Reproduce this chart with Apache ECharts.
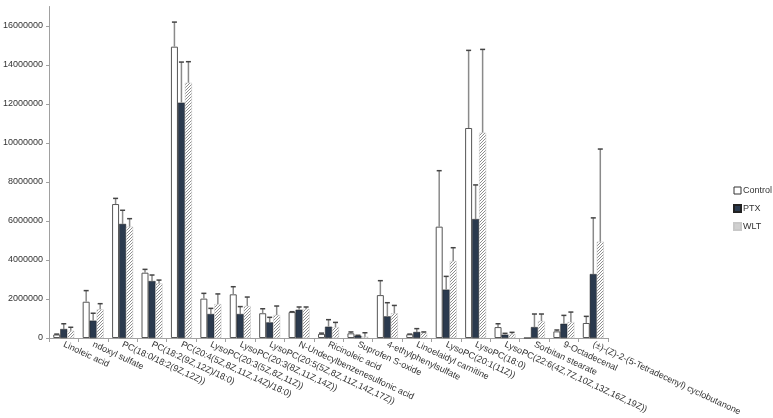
<!DOCTYPE html>
<html>
<head>
<meta charset="utf-8">
<script src="https://cdn.jsdelivr.net/npm/echarts@6/dist/echarts.min.js"></script>
<style>
  html, body { margin: 0; padding: 0; background: #fff; }
  #chart { width: 773px; height: 418px; }
</style>
</head>
<body>
<div id="chart"></div>
<script>
const categories = [
  'Linoleic acid', 'ndoxyl sulfate', 'PC(18:0/18:2(9Z,12Z))', 'PC(18:2(9Z,12Z)/18:0)',
  'PC(20:4(5Z,8Z,11Z,14Z)/18:0)', 'LysoPC(20:3(5Z,8Z,11Z))', 'LysoPC(20:3(8Z,11Z,14Z))',
  'LysoPC(20:5(5Z,8Z,11Z,14Z,17Z))', 'N-Undecylbenzenesulfonic acid', 'Ricinoleic acid',
  'Suprofen S-oxide', '4-ethylphenylsulfate', 'Linoelaidyl carnitine', 'LysoPC(20:1(11Z))',
  'LysoPC(18:0)', 'LysoPC(22:6(4Z,7Z,10Z,13Z,16Z,19Z))', 'Sorbitan stearate', '9-Octadecenal',
  '(±)-(Z)-2-(5-Tetradecenyl) cyclobutanone'
]
const seriesNames = ['Control', 'PTX', 'WLT']

const controlMean = [180000, 1860000, 6870000, 3350000, 14940000, 2020000, 2240000, 1270000, 1330000, 210000, 240000, 2200000, 190000, 5710000, 10770000, 560000, 0, 340000, 770000]
const controlErr = [20000, 570000, 290000, 170000, 1260000, 270000, 390000, 230000, 20000, 40000, 70000, 740000, 10000, 2870000, 3980000, 170000, 0, 70000, 340000]
const ptxMean = [460000, 890000, 5850000, 2920000, 12070000, 1230000, 1230000, 800000, 1450000, 580000, 120000, 1110000, 310000, 2480000, 6100000, 170000, 560000, 730000, 3280000]
const ptxErr = [270000, 380000, 700000, 310000, 2080000, 290000, 380000, 260000, 140000, 360000, 20000, 700000, 170000, 680000, 1750000, 70000, 670000, 430000, 2880000]
const wltMean = [370000, 1470000, 5710000, 2800000, 13090000, 1740000, 1640000, 1180000, 1490000, 560000, 70000, 1270000, 270000, 3950000, 10530000, 200000, 870000, 820000, 4940000]
const wltErr = [180000, 290000, 410000, 170000, 1080000, 520000, 460000, 460000, 100000, 240000, 200000, 400000, 40000, 680000, 4270000, 90000, 360000, 510000, 4750000]

const yTicks = [0, 2000000, 4000000, 6000000, 8000000, 10000000, 12000000, 14000000, 16000000]

// diagonal hatch for the WLT bars
function hatch() {
  const c = document.createElement('canvas')
  c.width = 3; c.height = 3
  const g = c.getContext('2d')
  g.fillStyle = '#fff'
  g.fillRect(0, 0, 3, 3)
  g.strokeStyle = '#8f8f8f'
  g.lineWidth = 1
  g.beginPath()
  g.moveTo(0, 3); g.lineTo(3, 0)
  g.moveTo(-1, 1); g.lineTo(1, -1)
  g.moveTo(2, 4); g.lineTo(4, 2)
  g.stroke()
  return c
}

const barW = 7
function errSeries(means, errs, offset) {
  return {
    type: 'custom',
    z: 3,
    silent: true,
    data: means.map((m, i) => [i, m, errs[i]]),
    renderItem: (params, api) => {
      const e = api.value(2)
      if (!e) return null
      const p0 = api.coord([api.value(0), api.value(1)])
      const p1 = api.coord([api.value(0), api.value(1) + e])
      const x = p0[0] + offset
      return {
        type: 'group',
        children: [
          { type: 'line', shape: { x1: x, y1: p0[1], x2: x, y2: p1[1] }, style: { stroke: '#8a8a8a', lineWidth: 1.5 } },
          { type: 'line', shape: { x1: x - 2.5, y1: p1[1], x2: x + 2.5, y2: p1[1] }, style: { stroke: '#444', lineWidth: 1.5 } }
        ]
      }
    }
  }
}

const chart = echarts.init(document.getElementById('chart'))
chart.setOption({
  animation: false,
  backgroundColor: '#fff',
  textStyle: { fontFamily: 'Liberation Sans' },
  grid: { left: 49, right: 165, top: 6.5, bottom: 80 },
  legend: {
    orient: 'vertical',
    left: 733, top: 186, padding: 0,
    itemWidth: 7, itemHeight: 7, itemGap: 9,
    textStyle: { fontSize: 9, color: '#333', padding: [0, 0, 0, -3] },
    data: [
      { name: 'Control', icon: 'rect', itemStyle: { color: '#fff', borderColor: '#333', borderWidth: 1 } },
      { name: 'PTX', icon: 'rect', itemStyle: { color: '#2b3a4e' } },
      { name: 'WLT', icon: 'rect', itemStyle: { color: '#d0d0d0' } }
    ]
  },
  xAxis: {
    type: 'category',
    data: categories,
    axisLine: { lineStyle: { color: '#a0a0a0' } },
    axisTick: { show: true, interval: 0, length: 4, lineStyle: { color: '#a0a0a0' } },
    axisLabel: { interval: 0, rotate: -25, fontSize: 9, color: '#333', margin: 6 }
  },
  yAxis: {
    type: 'value',
    min: 0, max: 17000000, interval: 2000000,
    axisLine: { show: true, lineStyle: { color: '#a0a0a0' } },
    axisTick: { show: true, length: 3, lineStyle: { color: '#a0a0a0' } },
    splitLine: { show: false },
    axisLabel: {
      fontSize: 9, color: '#333', margin: 6, showMaxLabel: false,
      formatter: v => yTicks.includes(v) ? String(v) : ''
    }
  },
  series: [
    { name: 'Control', type: 'bar', data: controlMean, barWidth: barW, barGap: '0%',
      itemStyle: { color: '#fff', borderColor: '#555', borderWidth: 1 } },
    { name: 'PTX', type: 'bar', data: ptxMean, barWidth: barW, barGap: '0%',
      itemStyle: { color: '#2b3a4e', borderColor: '#222', borderWidth: 0.5 } },
    { name: 'WLT', type: 'bar', data: wltMean, barWidth: barW, barGap: '0%',
      itemStyle: { color: { image: hatch(), repeat: 'repeat' }, borderColor: '#c8c8c8', borderWidth: 0.5 } },
    errSeries(controlMean, controlErr, -barW),
    errSeries(ptxMean, ptxErr, 0),
    errSeries(wltMean, wltErr, barW)
  ]
})
</script>
</body>
</html>
